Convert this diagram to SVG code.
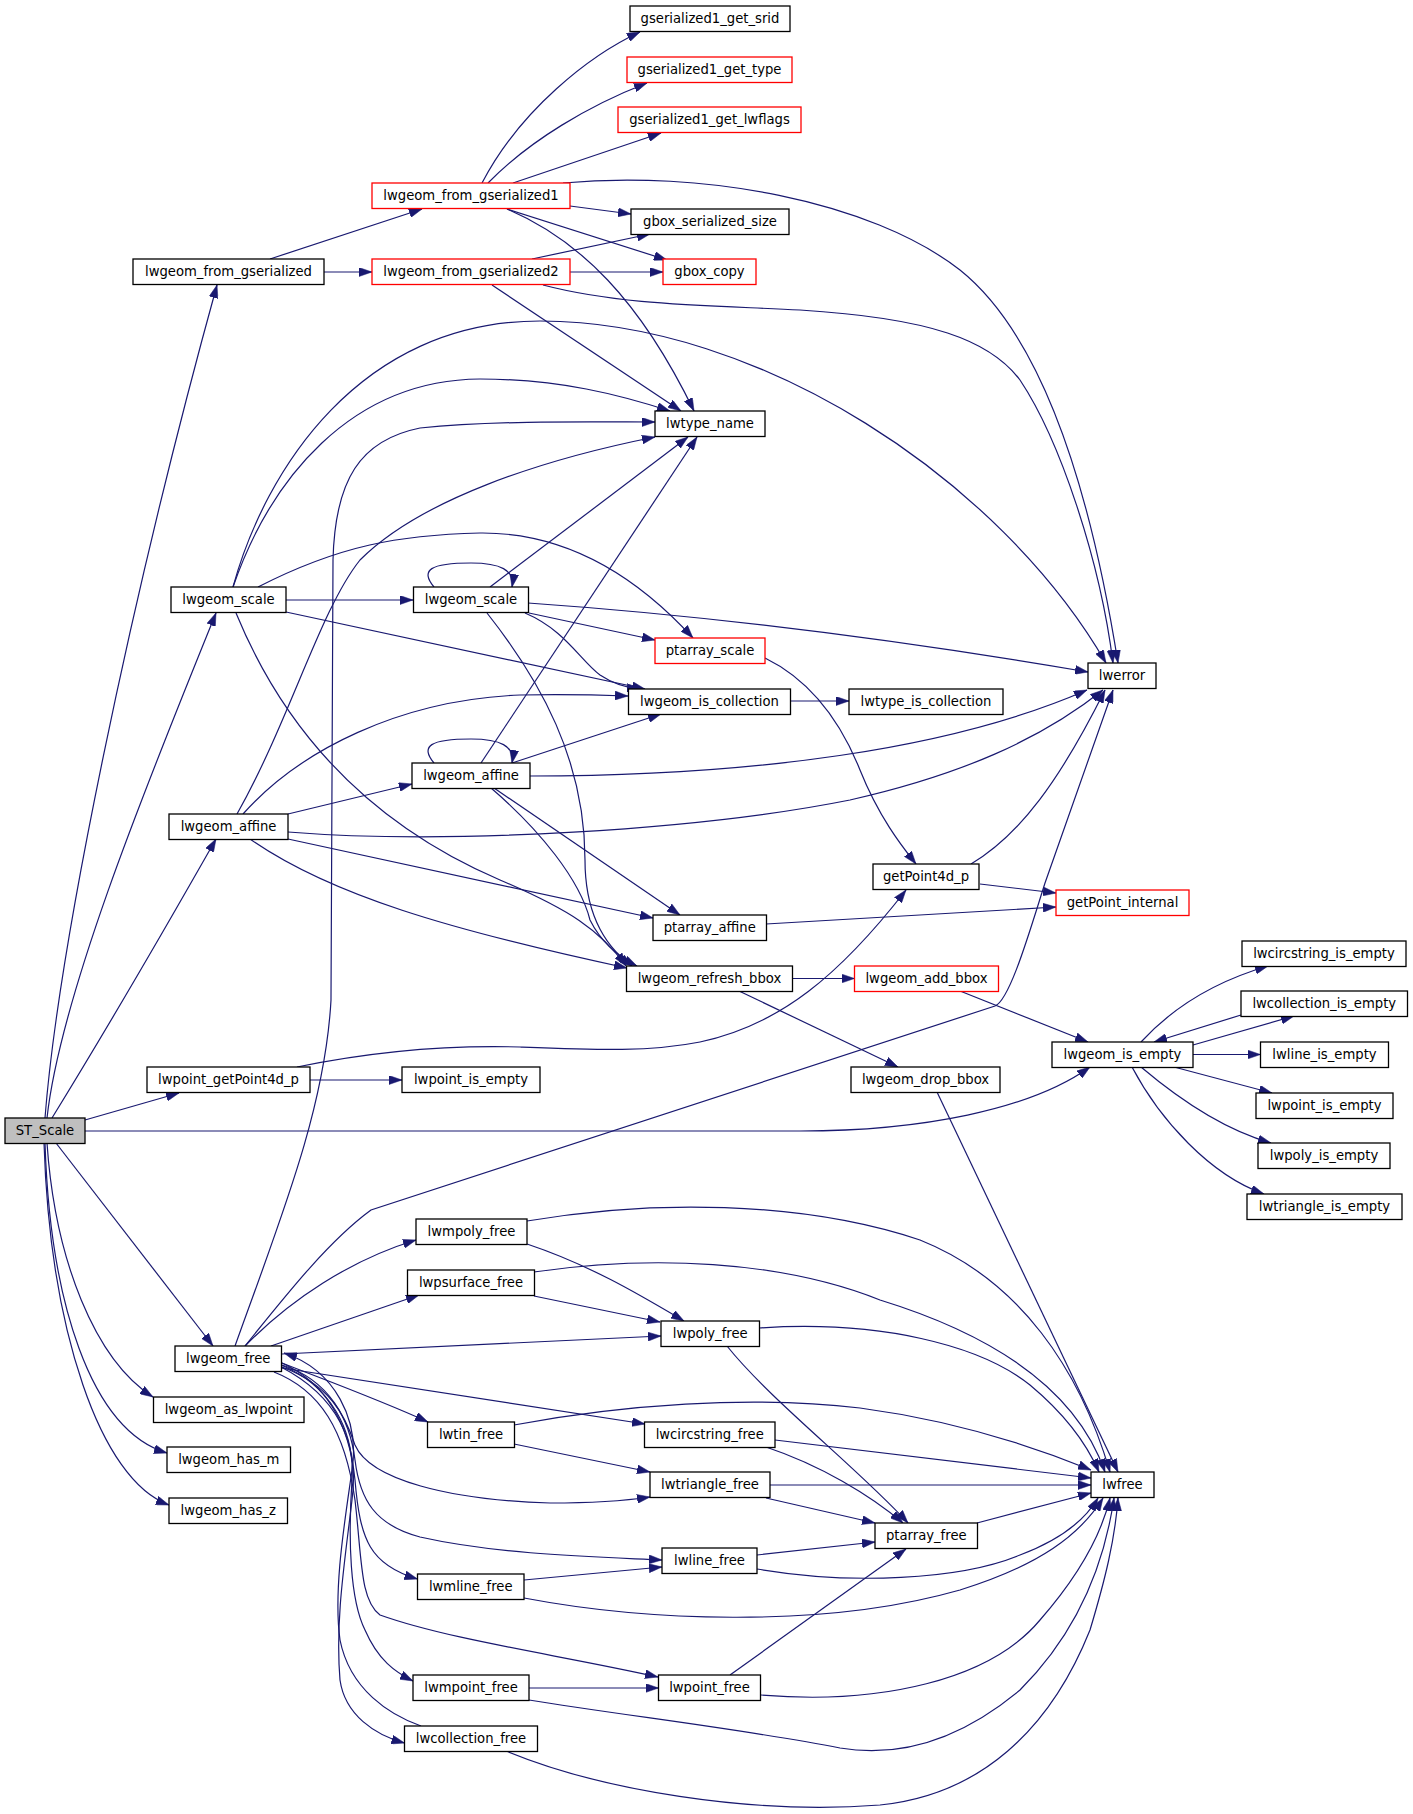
<svg xmlns="http://www.w3.org/2000/svg" width="1413" height="1814" viewBox="0 0 1413 1814">
<style>
.e{fill:none;stroke:#191970;stroke-width:1.2;marker-end:url(#a)}
.n rect{fill:#fff;stroke:#000;stroke-width:1.3}
.n.r rect{stroke:#f00}
.n.g rect{fill:#bfbfbf}
.n text{font-family:"DejaVu Sans",sans-serif;font-size:13.2px;text-anchor:middle;fill:#000}
</style>
<defs>
<marker id="a" viewBox="0 0 13 9" refX="13" refY="4.5" markerWidth="13" markerHeight="9" markerUnits="userSpaceOnUse" orient="auto"><path d="M0,0L13,4.5L0,9z" fill="#191970" stroke="#191970" stroke-width="0.5"/></marker>
</defs>
<rect width="1413" height="1814" fill="#fff"/>
<g id="edges">
<path class="e" d="M45,1118 C58,950 130,600 217,285"/>
<path class="e" d="M47,1118 C60,1000 140,800 216,613"/>
<path class="e" d="M52,1118 C100,1040 170,920 216,839"/>
<path class="e" d="M85,1120 L179,1093"/>
<path class="e" d="M85,1131 L800,1131 C920,1131 1030,1110 1090,1067"/>
<path class="e" d="M56,1143 L213,1346"/>
<path class="e" d="M47,1143 C55,1260 95,1360 153,1397"/>
<path class="e" d="M45,1143 C50,1300 90,1430 167,1453"/>
<path class="e" d="M44,1143 C50,1330 100,1480 169,1505"/>
<path class="e" d="M270,259 L422,209"/>
<path class="e" d="M324,272 L372,272"/>
<path class="e" d="M482,183 C520,110 590,55 640,32"/>
<path class="e" d="M488,183 C530,140 590,105 647,83"/>
<path class="e" d="M513,183 L661,133"/>
<path class="e" d="M570,206 L631,214"/>
<path class="e" d="M507,209 L667,260"/>
<path class="e" d="M507,209 C580,240 640,300 694,411"/>
<path class="e" d="M563,183 C700,170 870,200 960,270 C1060,350 1100,550 1118,663"/>
<path class="e" d="M532,259 L650,234"/>
<path class="e" d="M570,272 L663,272"/>
<path class="e" d="M492,285 L681,411"/>
<path class="e" d="M543,285 C620,305 700,305 800,310 C930,318 990,340 1020,380 C1060,440 1100,560 1113,663"/>
<path class="e" d="M286,600 L413,600"/>
<path class="e" d="M233,587 C270,480 350,380 480,379 C560,379 620,395 670,411"/>
<path class="e" d="M233,587 C265,470 360,321 540,321 C760,321 1000,480 1106,663"/>
<path class="e" d="M258,587 C340,545 400,535 480,533 C570,532 640,580 693,638"/>
<path class="e" d="M286,612 L645,689"/>
<path class="e" d="M236,613 C280,720 360,820 500,880 C570,910 600,930 626,966"/>
<path class="e" d="M434,587 C420,570 430,563 471,563 C500,563 515,570 512,587"/>
<path class="e" d="M490,587 L688,437"/>
<path class="e" d="M528,603 C700,615 900,640 1088,672"/>
<path class="e" d="M529,613 L655,640"/>
<path class="e" d="M525,613 C565,630 580,660 600,675 C615,685 628,688 640,689"/>
<path class="e" d="M487,613 C540,680 585,760 585,860 C585,920 610,950 632,966"/>
<path class="e" d="M434,763 C420,746 430,739 471,739 C500,739 515,746 512,763"/>
<path class="e" d="M512,763 L661,714"/>
<path class="e" d="M481,763 L697,437"/>
<path class="e" d="M530,776 C750,776 950,750 1087,690"/>
<path class="e" d="M494,788 L680,915"/>
<path class="e" d="M491,788 C540,830 580,880 590,920 C600,940 615,955 637,966"/>
<path class="e" d="M288,814 L412,784"/>
<path class="e" d="M237,814 C290,720 320,610 360,560 C420,500 540,460 655,437"/>
<path class="e" d="M243,814 C300,750 400,700 520,695 C570,694 600,695 628,696"/>
<path class="e" d="M288,832 C450,845 700,830 850,800 C960,775 1040,740 1103,690"/>
<path class="e" d="M288,839 L653,918"/>
<path class="e" d="M250,839 C330,895 450,930 627,968"/>
<path class="e" d="M791,701 L849,701"/>
<path class="e" d="M765,658 C810,680 840,720 860,770 C880,820 905,850 916,864"/>
<path class="e" d="M980,884 L1056,893"/>
<path class="e" d="M971,864 C1020,835 1060,780 1105,690"/>
<path class="e" d="M766,924 L1056,907"/>
<path class="e" d="M793,978.5 L854.5,978.5"/>
<path class="e" d="M739,991 L898,1067"/>
<path class="e" d="M960,991 L1088,1042"/>
<path class="e" d="M310,1080 L402,1080"/>
<path class="e" d="M297,1067 C370,1052 450,1045 520,1047 C600,1050 650,1052 700,1042 C780,1025 840,975 906,890"/>
<path class="e" d="M1141,1042 C1175,1005 1220,980 1268,966"/>
<path class="e" d="M1193,1045 L1294,1016"/>
<path class="e" d="M1241,1015 L1154,1042"/>
<path class="e" d="M1193,1054.5 L1260.5,1054.5"/>
<path class="e" d="M1174,1067 L1272,1093"/>
<path class="e" d="M1141,1067 C1180,1100 1225,1130 1271,1143"/>
<path class="e" d="M1132,1067 C1160,1120 1210,1175 1264,1194"/>
<path class="e" d="M937,1092 L1118,1472"/>
<path class="e" d="M235,1346 C280,1220 325,1110 331,1000 L333,560 C335,480 360,440 420,428 C500,420 600,422 655,422"/>
<path class="e" d="M245,1346 C290,1290 330,1240 371,1210 L995,1006 C1010,1000 1030,930 1045,883 L1113,690"/>
<path class="e" d="M245,1346 C290,1300 350,1260 416,1240"/>
<path class="e" d="M271,1346 L419,1295"/>
<path class="e" d="M282,1354 L661,1336"/>
<path class="e" d="M421,1726 C390,1715 350,1690 340,1640 C333,1590 345,1520 352,1470 C360,1420 335,1370 284,1353"/>
<path class="e" d="M282,1363 C320,1378 380,1400 428,1422"/>
<path class="e" d="M282,1368 L645,1424"/>
<path class="e" d="M282,1367 C330,1385 345,1415 355,1445 C370,1480 450,1500 550,1503 C600,1503 630,1500 650,1497"/>
<path class="e" d="M282,1365 C330,1380 350,1420 355,1460 C360,1500 375,1525 420,1537 C500,1555 600,1557 662,1560"/>
<path class="e" d="M282,1363 C330,1385 350,1430 355,1480 C360,1540 370,1565 417.5,1579"/>
<path class="e" d="M274,1372 C320,1390 345,1430 355,1500 C362,1560 360,1600 380,1615 C450,1640 560,1655 658,1677"/>
<path class="e" d="M281,1365 C330,1385 355,1430 352,1480 C348,1540 350,1600 365,1630 C378,1660 395,1672 413,1681"/>
<path class="e" d="M281,1367 C335,1395 360,1440 352,1500 C345,1560 335,1620 340,1680 C345,1715 375,1735 404.5,1743"/>
<path class="e" d="M527,1221 C650,1200 800,1200 920,1240 C1020,1280 1080,1370 1110,1472"/>
<path class="e" d="M527,1244 C590,1265 640,1295 684,1321"/>
<path class="e" d="M534,1272 C650,1255 780,1260 880,1300 C1010,1340 1080,1400 1105,1472"/>
<path class="e" d="M534,1296 L660,1322"/>
<path class="e" d="M759,1328 C880,1320 980,1345 1030,1385 C1060,1410 1085,1440 1099,1472"/>
<path class="e" d="M727,1346 C770,1400 860,1470 908,1523"/>
<path class="e" d="M514,1425 C620,1405 750,1395 860,1408 C950,1420 1030,1445 1091,1470"/>
<path class="e" d="M514,1444 L650,1472"/>
<path class="e" d="M775,1440 L1091,1478"/>
<path class="e" d="M766,1447 C820,1465 870,1495 903,1523"/>
<path class="e" d="M769.5,1485 L1091,1485"/>
<path class="e" d="M766,1498 L875,1523"/>
<path class="e" d="M977,1523 L1091,1493"/>
<path class="e" d="M757,1555 L875,1542"/>
<path class="e" d="M757,1569 C850,1585 960,1580 1020,1555 C1060,1540 1085,1520 1098,1498"/>
<path class="e" d="M524,1580 L662,1567"/>
<path class="e" d="M524,1598 C640,1620 820,1630 960,1590 C1040,1565 1080,1535 1103,1498"/>
<path class="e" d="M730,1675 L906,1549"/>
<path class="e" d="M761,1695 C880,1705 990,1680 1040,1620 C1075,1580 1100,1540 1110,1498"/>
<path class="e" d="M529,1688 L658.5,1688"/>
<path class="e" d="M529,1700 C620,1715 750,1730 840,1748 C900,1758 960,1740 1020,1690 C1080,1630 1105,1560 1114,1498"/>
<path class="e" d="M506,1751 C600,1790 750,1815 880,1805 C980,1795 1050,1730 1090,1630 C1105,1580 1115,1540 1118,1498"/>
</g>
<g id="n1" class="n"><rect x="630" y="6" width="160" height="25.5"/><text x="710" y="23">gserialized1_get_srid</text></g>
<g id="n2" class="n r"><rect x="627" y="57" width="165" height="25.5"/><text x="709.5" y="74">gserialized1_get_type</text></g>
<g id="n3" class="n r"><rect x="618" y="107" width="183" height="25.5"/><text x="709.5" y="124">gserialized1_get_lwflags</text></g>
<g id="n4" class="n r"><rect x="372" y="183" width="198" height="25.5"/><text x="471" y="200">lwgeom_from_gserialized1</text></g>
<g id="n5" class="n"><rect x="631" y="209" width="158" height="25.5"/><text x="710" y="226">gbox_serialized_size</text></g>
<g id="n6" class="n"><rect x="133" y="259" width="191" height="25.5"/><text x="228.5" y="276">lwgeom_from_gserialized</text></g>
<g id="n7" class="n r"><rect x="372" y="259" width="198" height="25.5"/><text x="471" y="276">lwgeom_from_gserialized2</text></g>
<g id="n8" class="n r"><rect x="663" y="259" width="93" height="25.5"/><text x="709.5" y="276">gbox_copy</text></g>
<g id="n9" class="n"><rect x="655" y="411" width="110" height="25.5"/><text x="710" y="428">lwtype_name</text></g>
<g id="n10" class="n"><rect x="171" y="587" width="115" height="25.5"/><text x="228.5" y="604">lwgeom_scale</text></g>
<g id="n11" class="n"><rect x="413.5" y="587" width="115" height="25.5"/><text x="471" y="604">lwgeom_scale</text></g>
<g id="n12" class="n r"><rect x="655" y="638" width="110" height="25.5"/><text x="710" y="655">ptarray_scale</text></g>
<g id="n13" class="n"><rect x="628.5" y="689" width="162" height="25.5"/><text x="709.5" y="706">lwgeom_is_collection</text></g>
<g id="n14" class="n"><rect x="849" y="689" width="154" height="25.5"/><text x="926" y="706">lwtype_is_collection</text></g>
<g id="n15" class="n"><rect x="1088" y="663" width="68" height="25.5"/><text x="1122" y="680">lwerror</text></g>
<g id="n16" class="n"><rect x="412" y="763" width="118" height="25.5"/><text x="471" y="780">lwgeom_affine</text></g>
<g id="n17" class="n"><rect x="169" y="814" width="119" height="25.5"/><text x="228.5" y="831">lwgeom_affine</text></g>
<g id="n18" class="n"><rect x="873" y="864" width="106" height="25.5"/><text x="926" y="881">getPoint4d_p</text></g>
<g id="n19" class="n r"><rect x="1056" y="890" width="133" height="25.5"/><text x="1122.5" y="907">getPoint_internal</text></g>
<g id="n20" class="n"><rect x="653" y="915" width="113.5" height="25.5"/><text x="709.75" y="932">ptarray_affine</text></g>
<g id="n21" class="n"><rect x="626.5" y="966" width="166" height="25.5"/><text x="709.5" y="983">lwgeom_refresh_bbox</text></g>
<g id="n22" class="n r"><rect x="854.5" y="966" width="144" height="25.5"/><text x="926.5" y="983">lwgeom_add_bbox</text></g>
<g id="n23" class="n"><rect x="1242" y="941" width="164" height="25.5"/><text x="1324" y="958">lwcircstring_is_empty</text></g>
<g id="n24" class="n"><rect x="1241" y="991" width="166.5" height="25.5"/><text x="1324.25" y="1008">lwcollection_is_empty</text></g>
<g id="n25" class="n"><rect x="1052" y="1042" width="141" height="25.5"/><text x="1122.5" y="1059">lwgeom_is_empty</text></g>
<g id="n26" class="n"><rect x="1260.5" y="1042" width="128" height="25.5"/><text x="1324.5" y="1059">lwline_is_empty</text></g>
<g id="n27" class="n"><rect x="147" y="1067" width="163" height="25.5"/><text x="228.5" y="1084">lwpoint_getPoint4d_p</text></g>
<g id="n28" class="n"><rect x="402" y="1067" width="138" height="25.5"/><text x="471" y="1084">lwpoint_is_empty</text></g>
<g id="n29" class="n"><rect x="851" y="1067" width="149" height="25.5"/><text x="925.5" y="1084">lwgeom_drop_bbox</text></g>
<g id="n30" class="n"><rect x="1256" y="1093" width="137" height="25.5"/><text x="1324.5" y="1110">lwpoint_is_empty</text></g>
<g id="n31" class="n g"><rect x="5" y="1118" width="80" height="25.5"/><text x="45" y="1135">ST_Scale</text></g>
<g id="n32" class="n"><rect x="1258" y="1143" width="132" height="25.5"/><text x="1324" y="1160">lwpoly_is_empty</text></g>
<g id="n33" class="n"><rect x="1247" y="1194" width="155" height="25.5"/><text x="1324.5" y="1211">lwtriangle_is_empty</text></g>
<g id="n34" class="n"><rect x="416" y="1219" width="111" height="25.5"/><text x="471.5" y="1236">lwmpoly_free</text></g>
<g id="n35" class="n"><rect x="407.5" y="1270" width="127" height="25.5"/><text x="471" y="1287">lwpsurface_free</text></g>
<g id="n36" class="n"><rect x="661" y="1321" width="98.5" height="25.5"/><text x="710.25" y="1338">lwpoly_free</text></g>
<g id="n37" class="n"><rect x="175" y="1346" width="106.5" height="25.5"/><text x="228.25" y="1363">lwgeom_free</text></g>
<g id="n38" class="n"><rect x="153.5" y="1397" width="150.5" height="25.5"/><text x="228.75" y="1414">lwgeom_as_lwpoint</text></g>
<g id="n39" class="n"><rect x="427.5" y="1422" width="87" height="25.5"/><text x="471" y="1439">lwtin_free</text></g>
<g id="n40" class="n"><rect x="644.5" y="1422" width="130.5" height="25.5"/><text x="709.75" y="1439">lwcircstring_free</text></g>
<g id="n41" class="n"><rect x="167" y="1447" width="123.5" height="25.5"/><text x="228.75" y="1464">lwgeom_has_m</text></g>
<g id="n42" class="n"><rect x="650" y="1472" width="120" height="25.5"/><text x="710" y="1489">lwtriangle_free</text></g>
<g id="n43" class="n"><rect x="1091" y="1472" width="63" height="25.5"/><text x="1122.5" y="1489">lwfree</text></g>
<g id="n44" class="n"><rect x="169" y="1498" width="118.5" height="25.5"/><text x="228.25" y="1515">lwgeom_has_z</text></g>
<g id="n45" class="n"><rect x="875" y="1523" width="102.5" height="25.5"/><text x="926.25" y="1540">ptarray_free</text></g>
<g id="n46" class="n"><rect x="662" y="1548" width="95" height="25.5"/><text x="709.5" y="1565">lwline_free</text></g>
<g id="n47" class="n"><rect x="417.5" y="1574" width="106.5" height="25.5"/><text x="470.75" y="1591">lwmline_free</text></g>
<g id="n48" class="n"><rect x="413" y="1675" width="116" height="25.5"/><text x="471" y="1692">lwmpoint_free</text></g>
<g id="n49" class="n"><rect x="658.5" y="1675" width="102" height="25.5"/><text x="709.5" y="1692">lwpoint_free</text></g>
<g id="n50" class="n"><rect x="404.5" y="1726" width="133" height="25.5"/><text x="471" y="1743">lwcollection_free</text></g>
</svg>
